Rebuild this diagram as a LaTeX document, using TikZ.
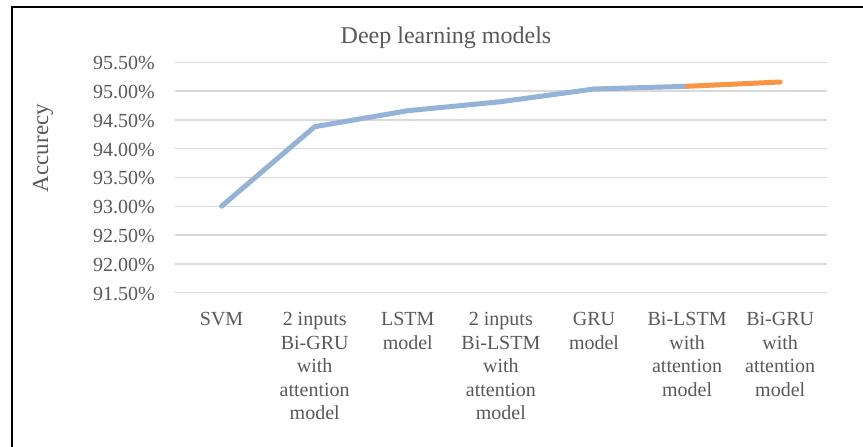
\documentclass[tikz,border=0pt]{standalone}
\usepackage{fontspec}
\setmainfont{Liberation Serif}
\definecolor{txt}{HTML}{595959}
\definecolor{gridc}{HTML}{D9D9D9}
\definecolor{blueline}{HTML}{95B3D7}
\definecolor{orangeline}{HTML}{F79646}
\begin{document}
\begin{tikzpicture}[x=1pt,y=-1pt,
  gridline/.style={gridc,line width=1.4pt},
  ticklabel/.style={anchor=base east,inner sep=0pt,text=txt,font=\fontsize{20}{23.5}\selectfont},
  catlabel/.style={anchor=north,inner sep=0pt,align=center,text=txt,font=\fontsize{20}{23.5}\selectfont},
  series/.style={line width=5pt,line cap=round,line join=round},
  titletext/.style={text=txt,inner sep=0pt,font=\fontsize{24}{28}\selectfont}]
\useasboundingbox (0,0) rectangle (863,447);
\clip (0,0) rectangle (863,447);
\fill[white] (0,0) rectangle (863,447);
\draw[black,line width=1.5pt] (12,7) rectangle (880,470);
% gridlines and tick labels
\foreach \v/\y in {95.50/62.2,95.00/91,94.50/119.8,94.00/148.6,93.50/177.4,93.00/206.2,92.50/235,92.00/263.8,91.50/292.6}{
  \draw[gridline] (175,\y) -- (827,\y);
  \node[ticklabel] (t\v) at (155,\y+7.5) {\v\%};
}
% title and axis title
\node[titletext] (title) at (446,38) {Deep learning models};
\node[titletext,rotate=90,font=\fontsize{23}{27}\selectfont] (ytitle) at (43,148) {Accurecy};
% data points
\coordinate (p1) at (221.6,206.2);
\coordinate (p2) at (314.7,126.7);
\coordinate (p3) at (407.8,110.7);
\coordinate (p4) at (500.9,101.7);
\coordinate (p5) at (594,89);
\coordinate (p6) at (687.1,86.3);
\coordinate (p7) at (780.2,82);
\draw[series,blueline] (p1) -- (p2) -- (p3) -- (p4) -- (p5) -- (p6);
\draw[series,orangeline] (p6) -- (p7);
% category labels
\node[catlabel] (c1) at (221.6,312.5) {SVM};
\node[catlabel] (c2) at (314.7,312.5) {2 inputs\\Bi-GRU\\with\\attention\\model};
\node[catlabel] (c3) at (407.8,312.5) {LSTM\\model};
\node[catlabel] (c4) at (500.9,312.5) {2 inputs\\Bi-LSTM\\with\\attention\\model};
\node[catlabel] (c5) at (594,312.5) {GRU\\model};
\node[catlabel] (c6) at (687.1,312.5) {Bi-LSTM\\with\\attention\\model};
\node[catlabel] (c7) at (780.2,312.5) {Bi-GRU\\with\\attention\\model};
\end{tikzpicture}
\end{document}
